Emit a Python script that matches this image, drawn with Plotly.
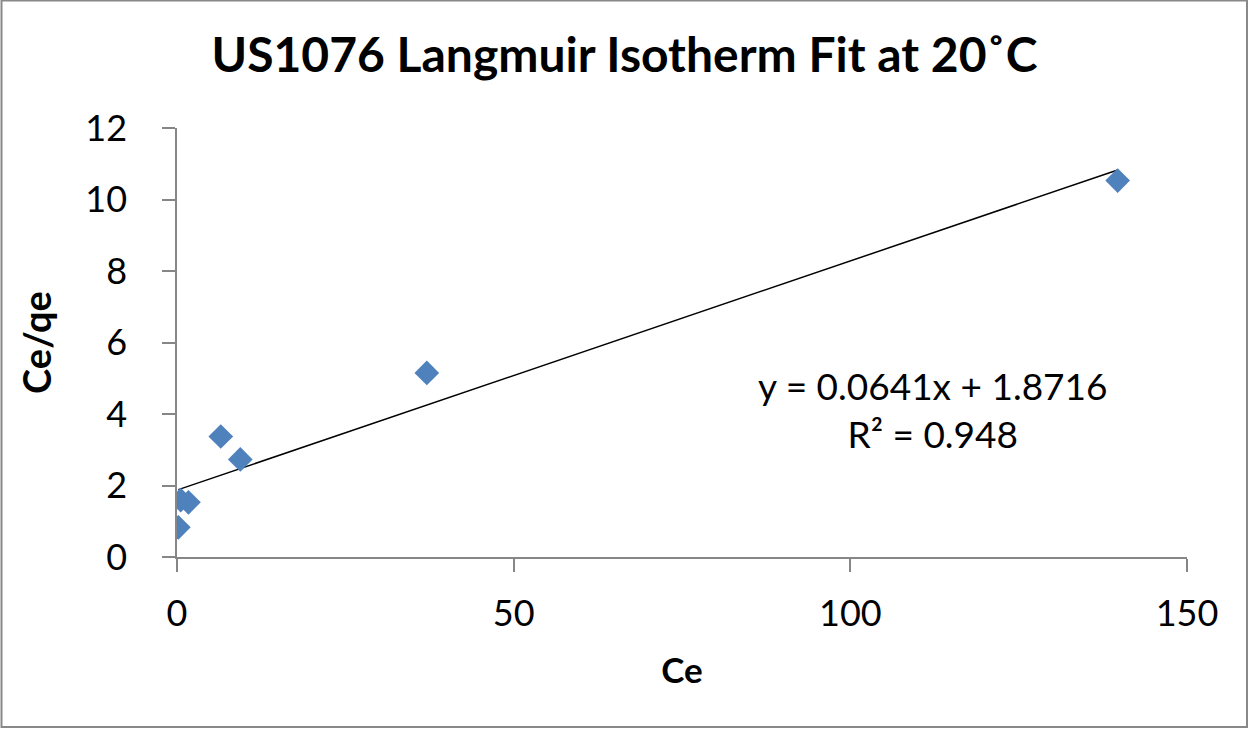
import plotly.graph_objects as go

ce = [0.2, 0.55, 1.7, 6.5, 9.4, 37.1, 139.7]
ce_qe = [0.83, 1.59, 1.53, 3.37, 2.73, 5.15, 10.53]
slope = 0.0641
intercept = 1.8716
r2 = 0.948

FONT = "Lato"

fit_x = [min(ce), max(ce)]
fit_y = [slope * v + intercept for v in fit_x]

fig = go.Figure()
fig.add_trace(go.Scatter(x=fit_x, y=fit_y, mode="lines",
                         line=dict(color="black", width=1.5), hoverinfo="skip", showlegend=False))
fig.add_trace(go.Scatter(x=ce, y=ce_qe, mode="markers",
                         marker=dict(symbol="diamond", size=19, color="#4F81BD"), showlegend=False))

fig.add_annotation(x=0.7485, y=0.343, xref="paper", yref="paper", xanchor="center", yanchor="middle",
                   text=f"y = {slope}x + {intercept}<br>R² = {r2}", showarrow=False,
                   font=dict(family=FONT, size=37, color="black"), align="center")

pw, ph = 1010, 429
fig.add_shape(type="rect", xref="paper", yref="paper",
              x0=(1.5 - 177) / pw, x1=(1247 - 177) / pw,
              y0=(557 - 727) / ph, y1=(557 - 0.5) / ph,
              line=dict(color="#888888", width=2))

fig.update_layout(
    width=1249, height=729,
    margin=dict(l=177, r=62, t=128, b=172),
    paper_bgcolor="white", plot_bgcolor="white",
    title=dict(text="<b>US1076 Langmuir Isotherm Fit at 20˚C</b>", x=0.5, xanchor="center",
               y=1 - 55 / 729, yanchor="middle",
               font=dict(family=FONT, size=48, color="black")),
    font=dict(family=FONT, color="black"),
    xaxis=dict(range=[0, 150], tickvals=[0, 50, 100, 150], showgrid=False, zeroline=False,
               showline=True, linecolor="#868686", linewidth=1.5,
               ticks="outside", ticklen=13, tickcolor="#868686", tickwidth=1.5,
               ticklabelstandoff=11,
               tickfont=dict(size=36), title=dict(text="<b>Ce</b>", font=dict(size=35), standoff=26)),
    yaxis=dict(range=[0, 12], tickvals=[0, 2, 4, 6, 8, 10, 12], showgrid=False, zeroline=False,
               showline=True, linecolor="#868686", linewidth=1.5,
               ticks="outside", ticklen=13, tickcolor="#868686", tickwidth=1.5,
               ticklabelstandoff=28,
               tickfont=dict(size=36), title=dict(text="<b>Ce/qe</b>", font=dict(size=38), standoff=22)),
)

fig.write_html("out.html", config={"displayModeBar": False},
               post_script="document.body.style.margin='0';document.body.style.overflow='hidden';")
